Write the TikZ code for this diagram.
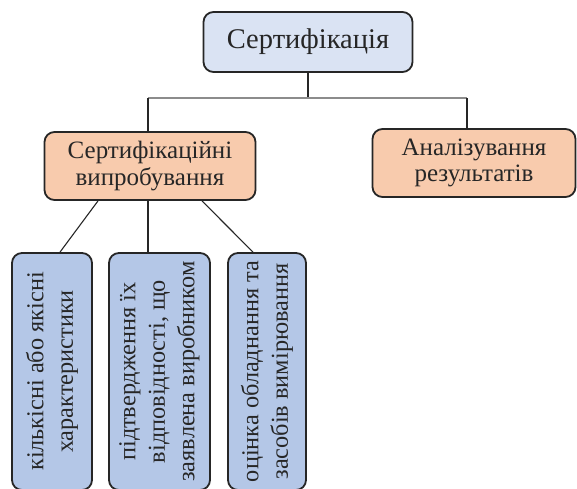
\documentclass[tikz,border=0pt]{standalone}
\usepackage{fontspec}
\setmainfont{Liberation Serif}
\usepackage{xcolor}
\usepackage{tikz}
\usetikzlibrary{positioning, calc}
\definecolor{certcolor0}{HTML}{DAE3F3}
\definecolor{certcolor1}{HTML}{F8CBAD}
\definecolor{certcolor2}{HTML}{B4C7E7}
\definecolor{certcolor3}{HTML}{262626}
\tikzset{
  box_base/.style={draw=certcolor3, line width=1.8pt, rounded corners=10pt, align=center, inner sep=0pt, text=certcolor3},
  box_top/.style={box_base, fill=certcolor0, minimum width=209pt, minimum height=60pt, font=\fontsize{28.5}{32}\selectfont},
  box_mid/.style={box_base, fill=certcolor1, minimum height=68pt, font=\fontsize{25}{26.5}\selectfont},
  box_leaf/.style={box_base, fill=certcolor2, rotate=90, minimum width=237pt, font=\fontsize{24.3}{29.5}\selectfont},
  link_line/.style={line width=1.1pt, color=black!85},
  link_bar/.style={line width=1.1pt, color=black!45}
}
\begin{document}
\begin{tikzpicture}[x=1pt, y=-1pt]
\clip (0,0) rectangle (577,488);
\node[box_top] (cert) at (308, 42) {Сертифікація};
\node[box_mid, minimum width=211pt] (tests) at (150, 166) {Сертифікаційні\\випробування};
\node[box_mid, minimum width=203pt] (analysis) at (474, 163) {Аналізування\\результатів};
\node[box_leaf, minimum height=80pt] (chars) at (52, 371.5) {кількісні або якісні\\характеристики};
\node[box_leaf, minimum height=101pt] (conform) at (159.5, 371.5) {підтвердження їх\\відповідності, що\\заявлена виробником};
\node[box_leaf, minimum height=78pt] (equip) at (267, 371.5) {оцінка обладнання та\\засобів вимірювання};
\coordinate (bar_left) at (148, 98);
\coordinate (bar_right) at (467, 98);
% branches from the top box
\draw[link_line] (cert.south) -- (cert.south |- bar_left);
\draw[link_bar] (bar_left) -- (bar_right);
\draw[link_line] (bar_left) -- (bar_left |- tests.north);
\draw[link_line] (bar_right) -- (bar_right |- analysis.north);
% branches to the leaf boxes
\draw[link_line] ($(tests.south)+(-52,0)$) -- ($(chars.east)+(8,0)$);
\draw[link_line] (bar_left |- tests.south) -- (bar_left |- conform.east);
\draw[link_line] ($(tests.south)+(52,0)$) -- ($(equip.east)+(-14,0)$);
\end{tikzpicture}
\end{document}
